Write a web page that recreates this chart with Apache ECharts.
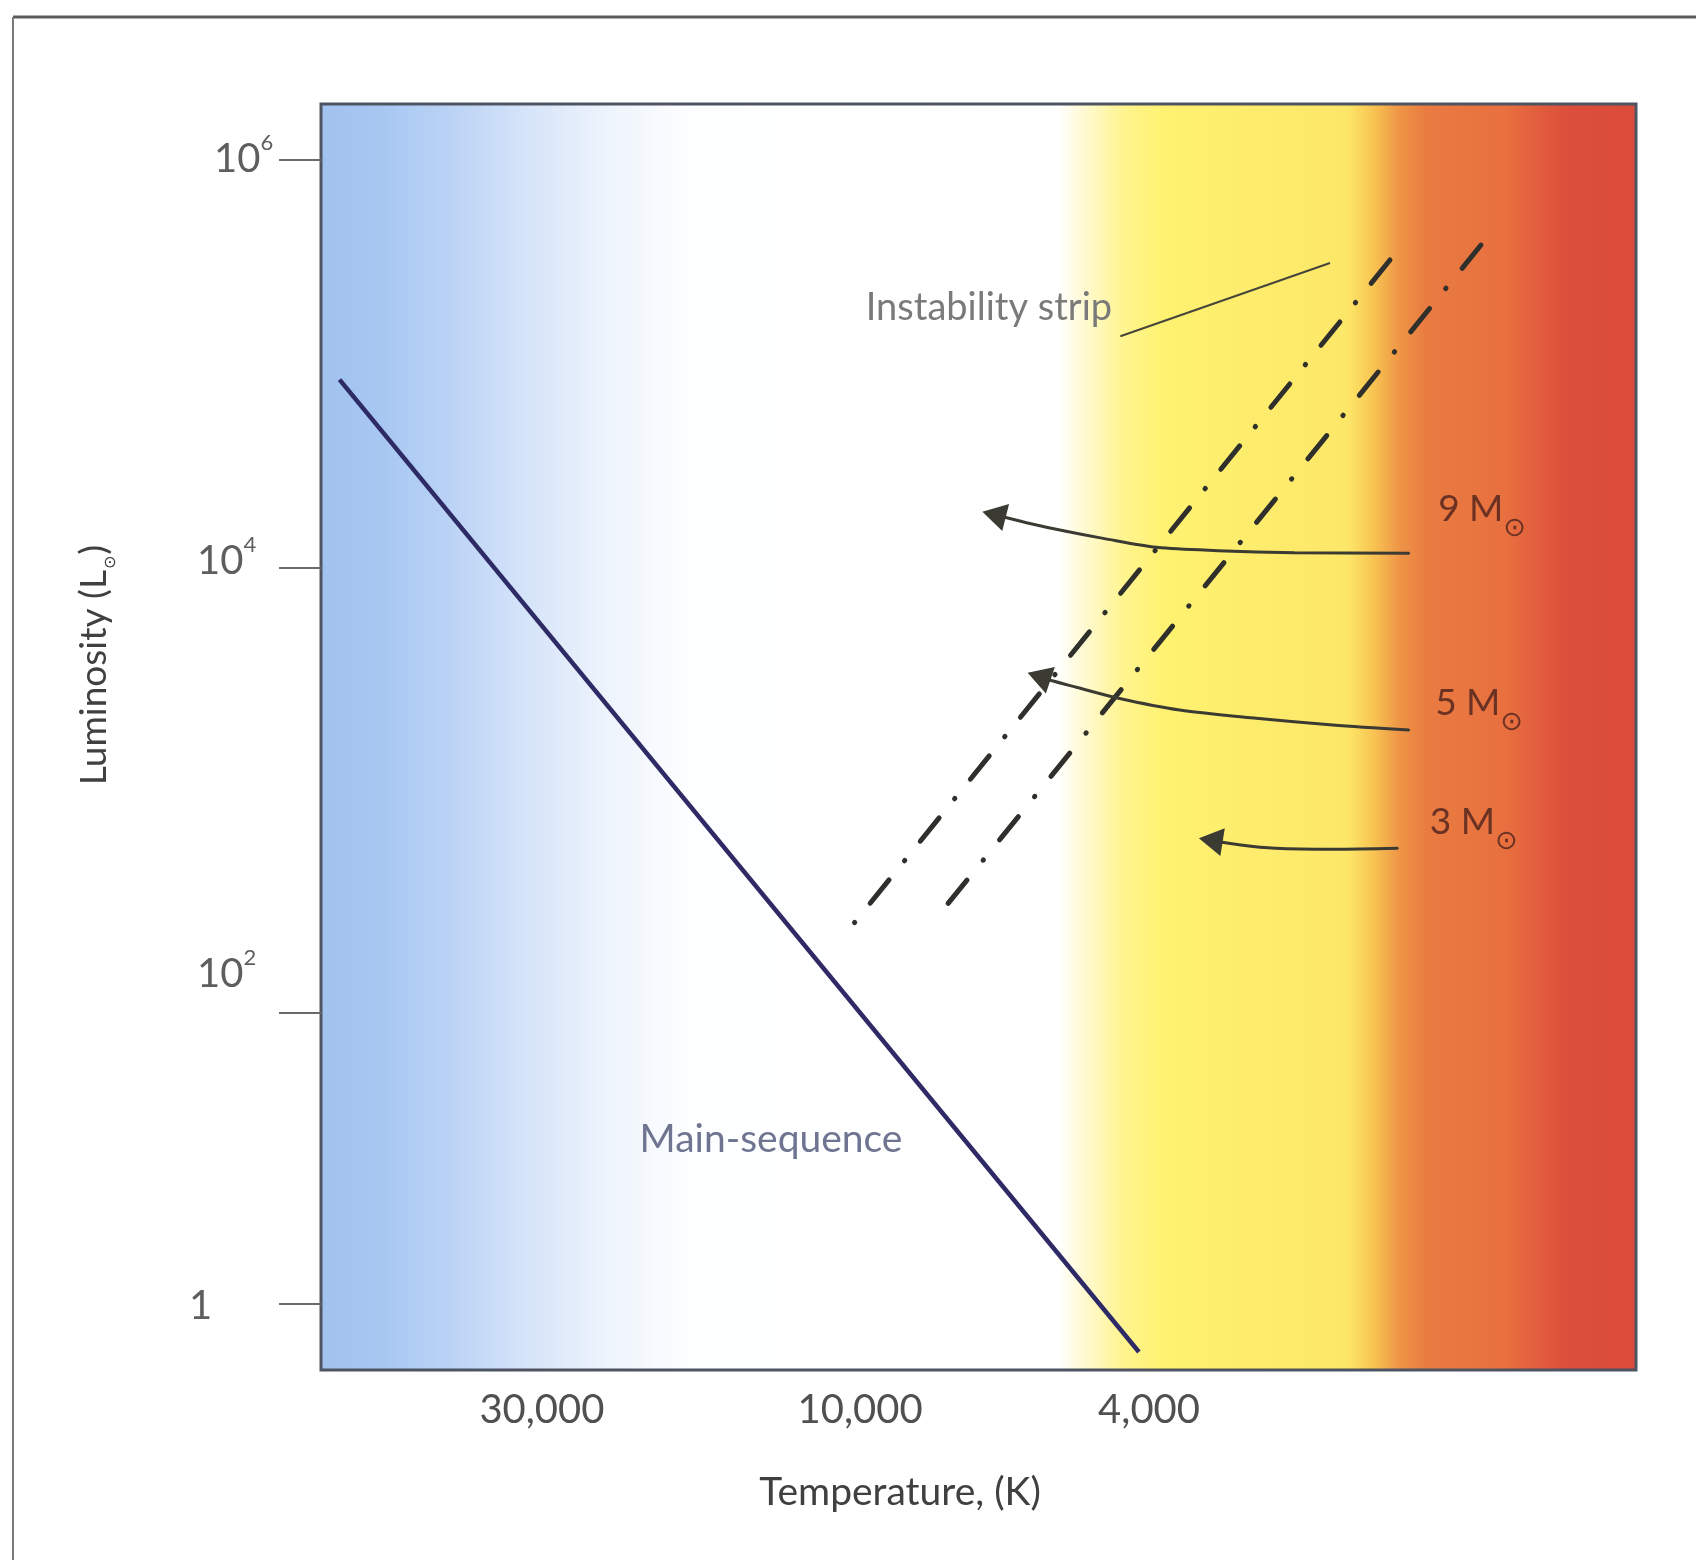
<!DOCTYPE html>
<html>
<head>
<meta charset="utf-8">
<script src="https://cdn.jsdelivr.net/npm/echarts@6/dist/echarts.min.js"></script>
<style>
  html, body { margin: 0; padding: 0; background: #ffffff; }
  #chart { width: 1696px; height: 1564px; }
</style>
</head>
<body>
<div id="chart"></div>
<script>
// Schematic Hertzsprung–Russell diagram with the Cepheid instability strip.
// Both axes run in diagram units (0–100 across the plot); tick labels sit at
// the positions where the schematic places them.

const tempTickPos = [16.8, 41.0, 62.97];
const tempTickLabels = ['30,000', '10,000', '4,000'];

const lumTickPos = [95.63, 63.33, 28.22, 5.27];
const lumTickExp = ['6', '4', '2', ''];          // 10^6, 10^4, 10^2, 1

const mainSequence = [[1.41, 78.23], [62.2, 1.42]];

// Blue and red edges of the instability strip
const stripBlueEdge = [[81.29, 87.68], [40.57, 35.34]];
const stripRedEdge  = [[88.21, 88.86], [47.64, 36.79]];
const stripPointer  = [[60.84, 81.67], [76.73, 87.44]];

// Evolutionary tracks (blue loops), from the red-giant end to the arrowhead
const track9 = [[82.75, 64.51], [74.02, 64.56], [68.21, 64.72], [63.55, 64.98],
                [59.48, 65.69], [56.56, 66.27], [53.65, 66.93], [51.18, 67.57]];
const track5 = [[82.75, 50.55], [76.94, 50.95], [71.12, 51.48], [65.29, 52.13],
                [60.64, 53.06], [57.44, 53.93], [55.4, 54.5], [54.6, 54.78]];
const track3 = [[81.89, 41.21], [76.94, 41.13], [72.57, 41.21], [69.95, 41.47],
                [67.66, 41.85]];
const trackMasses = ['9', '5', '3'];
const tracks = [track9, track5, track3];

const FONT = 'Lato, "DejaVu Sans", sans-serif';
const SYMBOL_FONT = '"DejaVu Sans", sans-serif';
const TRACK_COLOR = '#3b3b33';
const TICK_TEXT = '#5e5e5e';
const MASS_TEXT = '#6b3223';

// where each mass label sits relative to the start of its track
const massLabelPlacement = [
  { distance: 28, offset: [0, -44] },
  { distance: 25, offset: [0, -27] },
  { distance: 31, offset: [0, -26] }
];

function massLabel(k) {
  return {
    show: true,
    position: 'right',
    distance: massLabelPlacement[k].distance,
    offset: massLabelPlacement[k].offset,
    formatter: '{m|' + trackMasses[k] + ' M}{o|\u2299}',
    rich: {
      m: { fontFamily: FONT, fontSize: 37, lineHeight: 67, color: MASS_TEXT },
      o: { fontFamily: SYMBOL_FONT, fontSize: 27, lineHeight: 27,
           verticalAlign: 'bottom', color: MASS_TEXT }
    }
  };
}

function trackData(track, k, angle) {
  return track.map(function (p, i) {
    if (i === 0) {
      return { value: p, symbol: 'circle', symbolSize: 2, label: massLabel(k) };
    }
    if (i === track.length - 1) {
      return { value: p, symbol: 'triangle', symbolSize: [28, 24], symbolRotate: angle };
    }
    return { value: p, symbol: 'none' };
  });
}

function nearestIndex(list, v) {
  let best = 0;
  list.forEach(function (p, k) {
    if (Math.abs(p - v) < Math.abs(list[best] - v)) best = k;
  });
  return best;
}

// Luminosity tick label styles: "10" with a raised exponent; each label can be
// nudged (left indent, lift) independently of its tick.
function digitStyle(pad) {
  return { fontFamily: FONT, fontSize: 40, lineHeight: 56, color: TICK_TEXT, padding: pad };
}
function expStyle(lift) {
  return { fontFamily: FONT, fontSize: 22, lineHeight: 22, color: TICK_TEXT,
           padding: [0, 0, 2 * lift + 32, 0] };
}

const option = {
  animation: false,
  backgroundColor: '#ffffff',
  graphic: [
    { type: 'line', silent: true, shape: { x1: 13, y1: 17, x2: 1696, y2: 17 },
      style: { stroke: '#5a5a5a', lineWidth: 3 } },
    { type: 'line', silent: true, shape: { x1: 13, y1: 17, x2: 13, y2: 1560 },
      style: { stroke: '#7a7a7a', lineWidth: 2 } }
  ],
  grid: {
    left: 321, top: 104, width: 1315, height: 1266,
    show: true,
    borderColor: '#4e5462',
    borderWidth: 3,
    backgroundColor: new echarts.graphic.LinearGradient(0, 0, 1, 0, [
      { offset: 0.00, color: '#a2c2ef' },
      { offset: 0.05, color: '#a8c8f2' },
      { offset: 0.10, color: '#bbd3f5' },
      { offset: 0.16, color: '#d7e5f9' },
      { offset: 0.22, color: '#eef4fc' },
      { offset: 0.28, color: '#fdfeff' },
      { offset: 0.56, color: '#ffffff' },
      { offset: 0.58, color: '#fffad2' },
      { offset: 0.61, color: '#fff48f' },
      { offset: 0.64, color: '#fff271' },
      { offset: 0.78, color: '#fde768' },
      { offset: 0.80, color: '#f8c352' },
      { offset: 0.82, color: '#ee9446' },
      { offset: 0.84, color: '#e97b41' },
      { offset: 0.90, color: '#e8703f' },
      { offset: 0.925, color: '#e25d3d' },
      { offset: 0.945, color: '#dc4f3b' },
      { offset: 1.00, color: '#db4b3b' }
    ])
  },
  xAxis: {
    type: 'value', min: 0, max: 100,
    splitLine: { show: false },
    axisLine: { show: false },
    axisTick: { show: false },
    axisLabel: {
      customValues: tempTickPos,
      margin: 20,
      fontFamily: FONT, fontSize: 40, color: '#505050',
      formatter: function (v) { return tempTickLabels[nearestIndex(tempTickPos, v)]; }
    },
    name: 'Temperature, (K)',
    nameLocation: 'middle',
    nameGap: 103,
    nameTextStyle: { fontFamily: FONT, fontSize: 39, color: '#404040', padding: [0, 157, 0, 0] }
  },
  yAxis: {
    type: 'value', min: 0, max: 100,
    offset: 5,
    splitLine: { show: false },
    axisLine: { show: false },
    axisTick: {
      show: true, customValues: lumTickPos, length: 42,
      lineStyle: { color: '#6a6a6a', width: 2 }
    },
    axisLabel: {
      customValues: lumTickPos,
      align: 'left',
      margin: 127,
      formatter: function (v) {
        const i = nearestIndex(lumTickPos, v);
        if (!lumTickExp[i]) return '{n3|1}';
        return '{n' + i + '|10}{s' + i + '|' + lumTickExp[i] + '}';
      },
      rich: {
        n0: digitStyle([0, 0, 0, 25]),
        n1: digitStyle([0, 0, 14, 8]),
        n2: digitStyle([0, 0, 78, 8]),
        n3: digitStyle([6, 0, 0, 0]),
        s0: expStyle(0),
        s1: expStyle(7),
        s2: expStyle(39)
      }
    },
    name: '{t|Luminosity (L}{o|\u2299}{t|)}',
    nameLocation: 'middle',
    nameGap: 197,
    nameTextStyle: {
      padding: [0, 0, 0, 144],
      rich: {
        t: { fontFamily: FONT, fontSize: 37, lineHeight: 50, color: '#404040' },
        o: { fontFamily: SYMBOL_FONT, fontSize: 16, lineHeight: 16,
             verticalAlign: 'bottom', color: '#404040', padding: [0, 1, 0, 1] }
      }
    }
  },
  series: [
    {
      name: 'Main sequence',
      type: 'line',
      silent: true,
      symbol: 'none',
      data: mainSequence,
      lineStyle: { color: '#2d2a66', width: 4.5 },
      emphasis: { disabled: true },
      markPoint: {
        silent: true,
        symbol: 'circle',
        symbolSize: 0,
        label: {
          show: true, position: 'inside', formatter: 'Main-sequence',
          fontFamily: FONT, fontSize: 39, color: '#6f7591'
        },
        data: [{ coord: [34.22, 18.25] }]
      }
    },
    {
      name: 'Instability strip blue edge',
      type: 'line',
      silent: true,
      symbol: 'none',
      data: stripBlueEdge,
      lineStyle: { color: '#2f2f2b', width: 5, type: [30, 24.6, 0.5, 24.6], cap: 'round' },
      emphasis: { disabled: true }
    },
    {
      name: 'Instability strip red edge',
      type: 'line',
      silent: true,
      symbol: 'none',
      data: stripRedEdge,
      lineStyle: { color: '#2f2f2b', width: 5, type: [30, 25.6, 0.5, 25.6], cap: 'round' },
      emphasis: { disabled: true }
    },
    {
      name: 'Instability strip pointer',
      type: 'line',
      silent: true,
      symbol: 'none',
      data: [
        { value: stripPointer[0], symbol: 'circle', symbolSize: 2,
          label: {
            show: true, position: 'left', distance: 8, offset: [0, -28],
            formatter: 'Instability strip',
            fontFamily: FONT, fontSize: 38, color: '#7a7a7a'
          } },
        stripPointer[1]
      ],
      itemStyle: { color: '#45453a' },
      lineStyle: { color: '#45453a', width: 2 },
      emphasis: { disabled: true }
    }
  ].concat(tracks.map(function (t, k) {
    return {
      id: 'track' + k,
      name: trackMasses[k] + ' solar masses',
      type: 'line',
      silent: true,
      smooth: 0.3,
      symbol: 'none',
      data: trackData(t, k, 90),
      itemStyle: { color: TRACK_COLOR },
      lineStyle: { color: TRACK_COLOR, width: 3 },
      emphasis: { disabled: true }
    };
  }))
};

const chart = echarts.init(document.getElementById('chart'), null, { renderer: 'canvas' });
chart.setOption(option);

// Point each arrowhead along the last segment of its track, in screen space.
function arrowAngle(track) {
  const a = chart.convertToPixel({ gridIndex: 0 }, track[track.length - 2]);
  const b = chart.convertToPixel({ gridIndex: 0 }, track[track.length - 1]);
  return Math.atan2(-(b[0] - a[0]), -(b[1] - a[1])) * 180 / Math.PI;
}
chart.setOption({
  series: tracks.map(function (t, k) {
    return { id: 'track' + k, data: trackData(t, k, arrowAngle(t)) };
  })
});
</script>
</body>
</html>
